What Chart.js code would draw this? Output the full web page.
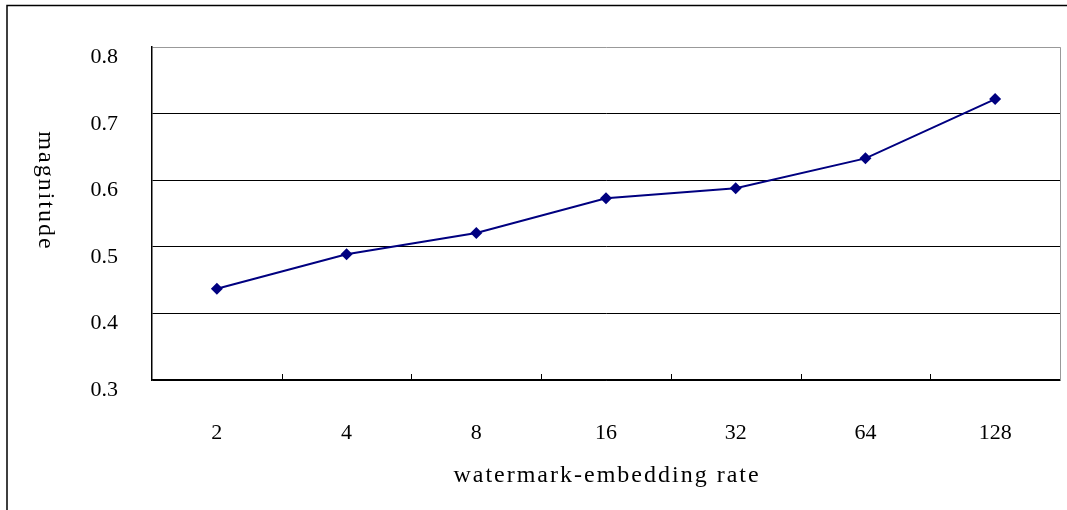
<!DOCTYPE html>
<html>
<head>
<meta charset="utf-8">
<script src="https://cdn.jsdelivr.net/npm/chart.js@4"></script>
<style>
  body { margin: 0; background: #fff; }
</style>
</head>
<body>
<canvas id="rateChart" width="1067" height="510"></canvas>
<script>
const rates = ['2', '4', '8', '16', '32', '64', '128'];
const magnitude = [0.437, 0.489, 0.521, 0.573, 0.588, 0.633, 0.722];
const yTicks = [0.3, 0.4, 0.5, 0.6, 0.7, 0.8];

const serif = '"Liberation Serif", "Times New Roman", serif';

// frame, inside ticks, right border and rotated titles
const extras = {
    id: 'extras',
    afterDraw(chart) {
        const ctx = chart.ctx;
        const area = chart.chartArea;
        const x = chart.scales.x;
        ctx.save();
        ctx.strokeStyle = '#000';
        ctx.lineWidth = 1.5;
        ctx.beginPath();
        ctx.moveTo(7, 510);
        ctx.lineTo(7, 5.5);
        ctx.lineTo(1067, 5.5);
        ctx.stroke();

        ctx.strokeStyle = '#999';
        ctx.lineWidth = 1;
        ctx.beginPath();
        ctx.moveTo(area.right + 0.5, area.top);
        ctx.lineTo(area.right + 0.5, area.bottom);
        ctx.stroke();

        ctx.strokeStyle = '#000';
        const half = (x.getPixelForValue(1) - x.getPixelForValue(0)) / 2;
        for (let i = 1; i < rates.length; i++) {
            const px = Math.round(x.getPixelForValue(i) - half) + 0.5;
            ctx.beginPath();
            ctx.moveTo(px, area.bottom);
            ctx.lineTo(px, area.bottom - 6);
            ctx.stroke();
        }

        ctx.fillStyle = '#000';
        ctx.font = '24px ' + serif;
        ctx.letterSpacing = '2px';
        ctx.textAlign = 'center';
        ctx.textBaseline = 'middle';
        ctx.fillText('watermark-embedding rate', (area.left + area.right) / 2 + 1, 476);

        ctx.translate(45, 190);
        ctx.rotate(Math.PI / 2);
        ctx.fillText('magnitude', 1, 0);
        ctx.restore();
    }
};

new Chart(document.getElementById('rateChart'), {
    type: 'line',
    data: {
        labels: rates,
        datasets: [{
            data: magnitude,
            borderColor: '#000080',
            backgroundColor: '#000080',
            borderWidth: 2,
            pointStyle: 'rectRot',
            pointRadius: 6,
            pointBorderWidth: 0,
            tension: 0
        }]
    },
    options: {
        responsive: false,
        animation: false,
        layout: {
            padding: { top: 47, right: 7, left: 0, bottom: 0 }
        },
        plugins: {
            legend: { display: false },
            tooltip: { enabled: false }
        },
        scales: {
            x: {
                offset: true,
                grid: { display: false },
                border: { color: '#000', width: 1.5 },
                ticks: {
                    color: '#000',
                    padding: 32,
                    font: { family: serif, size: 22 }
                },
                afterFit(scale) { scale.height = 130; }
            },
            y: {
                min: 0.3,
                max: 0.8,
                afterBuildTicks(scale) {
                    scale.ticks = yTicks.map(v => ({ value: v }));
                },
                grid: {
                    drawTicks: false,
                    color: ctx => ctx.tick && ctx.tick.value === 0.8 ? '#999' : '#000',
                    lineWidth: 1
                },
                border: { color: '#000', width: 1.5 },
                ticks: {
                    color: '#000',
                    padding: 34,
                    labelOffset: 10,
                    font: { family: serif, size: 22 },
                    callback: v => v.toFixed(1)
                },
                afterFit(scale) { scale.width = 152; }
            }
        }
    },
    plugins: [extras]
});
</script>
</body>
</html>
